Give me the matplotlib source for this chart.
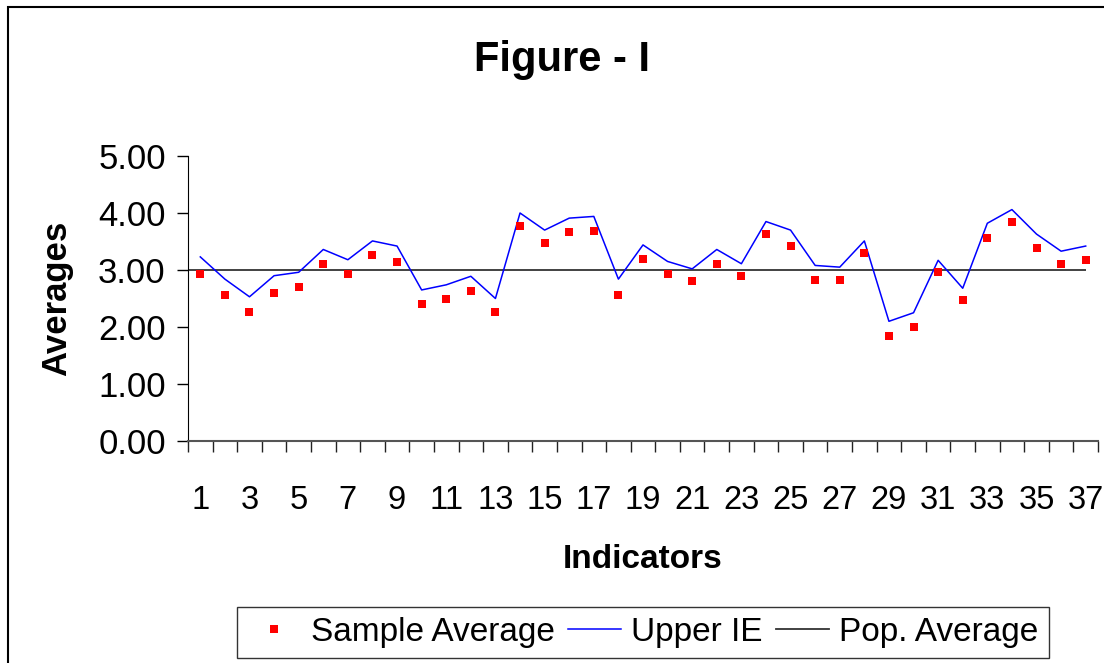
import matplotlib
matplotlib.use("Agg")
import matplotlib.pyplot as plt
from matplotlib.patches import Rectangle
from matplotlib.lines import Line2D

plt.rcParams['font.family'] = ['Liberation Sans', 'DejaVu Sans']

# data
indicators = list(range(1, 38))
sample_avg = [2.93, 2.56, 2.26, 2.59, 2.71, 3.11, 2.93, 3.26, 3.14, 2.40,
              2.49, 2.64, 2.26, 3.78, 3.47, 3.67, 3.68, 2.56, 3.19, 2.93,
              2.81, 3.11, 2.89, 3.63, 3.42, 2.82, 2.82, 3.30, 1.85, 2.00,
              2.96, 2.47, 3.56, 3.84, 3.38, 3.11, 3.18]
upper_ie = [3.23, 2.84, 2.53, 2.90, 2.96, 3.36, 3.18, 3.51, 3.42, 2.65,
            2.74, 2.89, 2.50, 4.00, 3.70, 3.91, 3.94, 2.84, 3.44, 3.15,
            3.02, 3.36, 3.11, 3.85, 3.70, 3.08, 3.05, 3.51, 2.10, 2.25,
            3.17, 2.68, 3.82, 4.06, 3.63, 3.33, 3.42]
pop_avg = 3.00
y_ticks = [0, 1, 2, 3, 4, 5]

W, H = 1104, 663
fig = plt.figure(figsize=(W / 100, H / 100), dpi=100)
ax = fig.add_axes([188 / W, 1 - 441 / H, 910 / W, 285 / H])

# chart area border
fig.patches.append(Rectangle((8 / W, -0.05), 1.2, 1.05 - 7 / H, transform=fig.transFigure,
                             fill=False, edgecolor='black', linewidth=1.5))

ax.hlines(pop_avg, 0.5, indicators[-1], color='#333333', linewidth=1.3, zorder=1)
ax.plot(indicators, upper_ie, color='#0000ff', linewidth=1.1, zorder=2)
ax.plot(indicators, sample_avg, linestyle='none', marker='s', markersize=6,
        color='#ff0000', markeredgewidth=0, zorder=3)

ax.set_xlim(0.5, 37.5)
ax.set_ylim(0, 5)
ax.set_yticks(y_ticks)
ax.set_yticklabels(['%.2f' % v for v in y_ticks])
ax.set_xticks(indicators[::2])
ax.set_xticklabels([str(i) for i in indicators[::2]])
ax.set_xticks([i + 0.5 for i in range(0, 38)], minor=True)
ax.tick_params(axis='x', which='major', length=0, pad=32, labelsize=23.5)
ax.tick_params(axis='x', which='minor', length=8, width=1, direction='out', color='#222222')
ax.tick_params(axis='y', length=8, width=1, direction='out', pad=8, labelsize=25)

for s in ['top', 'right']:
    ax.spines[s].set_visible(False)
ax.spines['left'].set_color('black')
ax.spines['bottom'].set_color('#555555')
ax.spines['bottom'].set_linewidth(1.5)

ax.set_ylabel('Averages', fontsize=25, fontweight='bold', labelpad=18)
ax.set_xlabel('Indicators', fontsize=24, fontweight='bold', labelpad=20)
fig.text(562 / W, 1 - 60 / H, 'Figure - I', fontsize=30, fontweight='bold',
         ha='center', va='center')

handles = [Line2D([], [], linestyle='none', marker='s', markersize=6, color='#ff0000', markeredgewidth=0),
           Line2D([], [], color='#0000ff', linewidth=1.1),
           Line2D([], [], color='#333333', linewidth=1.3)]
leg = fig.legend(handles, ['Sample Average', 'Upper IE', 'Pop. Average'],
                 loc='center', bbox_to_anchor=(643 / W, 1 - 632 / H), ncol=3,
                 fontsize=24, frameon=True, fancybox=False, handlelength=1.6,
                 handletextpad=0.3, columnspacing=0.4, borderpad=0.3)
leg.get_frame().set_edgecolor('black')
leg.get_frame().set_linewidth(1.0)

fig.savefig('out.png', dpi=100)
